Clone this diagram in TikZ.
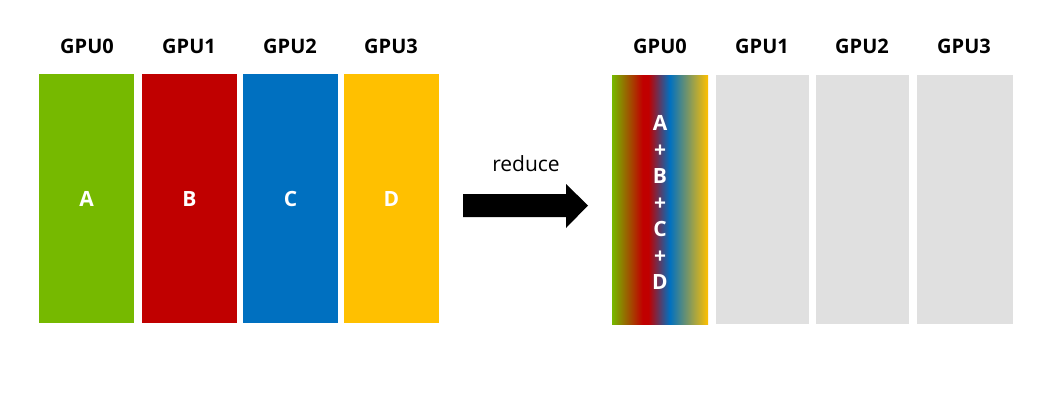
\documentclass[tikz,border=0pt]{standalone}
\usepackage{fontspec}
\setmainfont{Open Sans}
\definecolor{gpugreen}{HTML}{76B900}
\definecolor{gpured}{HTML}{C00000}
\definecolor{gpublue}{HTML}{0070C0}
\definecolor{gpuyellow}{HTML}{FFC000}
\definecolor{gpugray}{HTML}{E0E0E0}
\pgfdeclarehorizontalshading{reduceshade}{100bp}{color(0bp)=(gpugreen); color(25bp)=(gpugreen); color(41bp)=(gpured); color(44bp)=(gpured); color(55bp)=(gpublue); color(75bp)=(gpuyellow); color(100bp)=(gpuyellow)}
\begin{document}
\begin{tikzpicture}[x=1pt,y=-1pt,
  gpubox/.style={minimum width=95pt,minimum height=249pt,inner sep=0pt,outer sep=0pt,anchor=north west},
  gpulabel/.style={font=\bfseries\fontsize{20}{24}\selectfont},
  boxtext/.style={font=\bfseries\fontsize{21}{26.5}\selectfont,text=white,align=center}]
\useasboundingbox (0,0) rectangle (1057,400);
% left group
\node[gpubox,fill=gpugreen] (a) at (39,74) {};
\node[gpubox,fill=gpured] (b) at (142,74) {};
\node[gpubox,fill=gpublue] (c) at (243,74) {};
\node[gpubox,fill=gpuyellow] (d) at (344,74) {};
\node[boxtext] at (a.center) {A};
\node[boxtext] at (b.center) {B};
\node[boxtext] at (c.center) {C};
\node[boxtext] at (d.center) {D};
\node[gpulabel] (la) at (87,46) {GPU0};
\node[gpulabel] (lb) at (189,46) {GPU1};
\node[gpulabel] (lc) at (290,46) {GPU2};
\node[gpulabel] (ld) at (391,46) {GPU3};
% arrow
\fill[black] (463,194) -- (566,194) -- (566,184) -- (588,205.5) -- (566,228) -- (566,217) -- (463,217) -- cycle;
\node[font=\fontsize{21}{24}\selectfont] (red) at (526,164) {reduce};
% right group
\node[gpubox,shading=reduceshade,minimum width=96pt] (r0) at (612,75) {};
\node[gpubox,fill=gpugray,minimum width=93pt] (r1) at (716,75) {};
\node[gpubox,fill=gpugray,minimum width=93pt] (r2) at (816,75) {};
\node[gpubox,fill=gpugray,minimum width=96pt] (r3) at (917,75) {};
\node[boxtext] at ([yshift=-3pt]r0.center) {A\\+\\B\\+\\C\\+\\D};
\node[gpulabel] (l0) at (660,46) {GPU0};
\node[gpulabel] (l1) at (762,46) {GPU1};
\node[gpulabel] (l2) at (862,46) {GPU2};
\node[gpulabel] (l3) at (964,46) {GPU3};
\end{tikzpicture}
\end{document}
